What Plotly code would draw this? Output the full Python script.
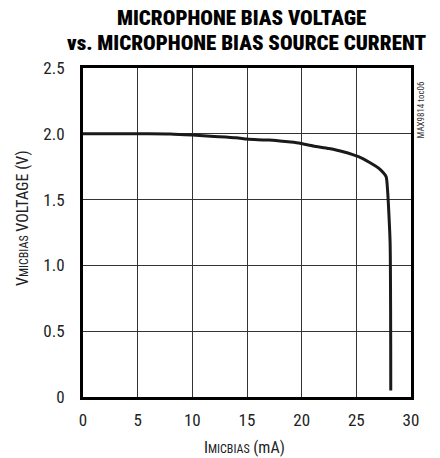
import plotly.graph_objects as go

current_mA = [0, 2, 4, 6, 8, 10, 12, 14, 15, 16, 17, 18, 19, 19.85, 21.07, 22.5, 23.8, 25.2, 26.26, 27.17, 27.72, 27.85, 27.93, 28.09, 28.15]
voltage_V = [2.0, 2.0, 2.0, 2.0, 1.998, 1.99, 1.98, 1.97, 1.96, 1.955, 1.952, 1.945, 1.937, 1.928, 1.907, 1.888, 1.864, 1.826, 1.78, 1.73, 1.674, 1.58, 1.47, 1.168, 0.05]

x_ticks = [0, 5, 10, 15, 20, 25, 30]
x_ticklabels = ["0", "5", "10", "15", "20", "25", "30"]
y_ticks = [0, 0.5, 1.0, 1.5, 2.0, 2.5]
y_ticklabels = ["0", "0.5", "1.0", "1.5", "2.0", "2.5"]

title_lines = ["MICROPHONE BIAS VOLTAGE", "vs. MICROPHONE BIAS SOURCE CURRENT"]
x_title = "I<span style='font-size:12px'>MICBIAS</span> (mA)"
y_title = "V<span style='font-size:12px'>MICBIAS</span> VOLTAGE (V)"

font_main = "Roboto Condensed, Open Sans Condensed, sans-serif"

fig = go.Figure()
fig.add_trace(go.Scatter(x=current_mA, y=voltage_V, mode="lines",
                         line=dict(color="#1a1a1a", width=3, shape="spline", smoothing=0.6),
                         showlegend=False, hoverinfo="skip"))

fig.update_layout(
    width=440, height=458,
    margin=dict(l=83, r=29, t=68, b=61, autoexpand=False),
    paper_bgcolor="white", plot_bgcolor="white",
    font=dict(family=font_main, color="#222", size=17),
    xaxis=dict(range=[0, 30], tickvals=x_ticks, ticktext=x_ticklabels,
               showgrid=True, gridcolor="#333", gridwidth=1,
               showline=True, linecolor="black", linewidth=3, mirror=True,
               ticks="", zeroline=False, ticklabelstandoff=6, automargin=False),
    yaxis=dict(range=[0, 2.5], tickvals=y_ticks, ticktext=y_ticklabels,
               showgrid=True, gridcolor="#333", gridwidth=1,
               showline=True, linecolor="black", linewidth=3, mirror=True,
               ticks="", zeroline=False, ticklabelstandoff=12, automargin=False),
)

fig.add_annotation(text=x_title, xref="paper", yref="paper",
                   x=0.4925, y=-0.155, xanchor="center", yanchor="middle", showarrow=False,
                   font=dict(family=font_main, size=16, color="#222"))
fig.add_annotation(text=y_title, xref="paper", yref="paper",
                   x=-0.186, y=0.544, xanchor="center", yanchor="middle", showarrow=False,
                   textangle=-90, font=dict(family=font_main, size=16, color="#222"))

fig.add_annotation(text=title_lines[0], xref="paper", yref="paper",
                   x=0.482, y=1.1505, xanchor="center", yanchor="middle", showarrow=False,
                   font=dict(family=font_main, size=21, color="black", weight=900))
fig.add_annotation(text=title_lines[1], xref="paper", yref="paper",
                   x=0.497, y=1.0745, xanchor="center", yanchor="middle", showarrow=False,
                   font=dict(family=font_main, size=21, color="black", weight=900))

fig.add_annotation(text="MAX9814 toc06", xref="paper", yref="paper",
                   x=1.0, y=1.0, xanchor="left", yanchor="top", xshift=2, yshift=-12,
                   textangle=-90, showarrow=False,
                   font=dict(family=font_main, size=9, color="#333"))

fig.write_html("out.html", post_script="document.body.style.margin='0';",
               config={"displayModeBar": False})
